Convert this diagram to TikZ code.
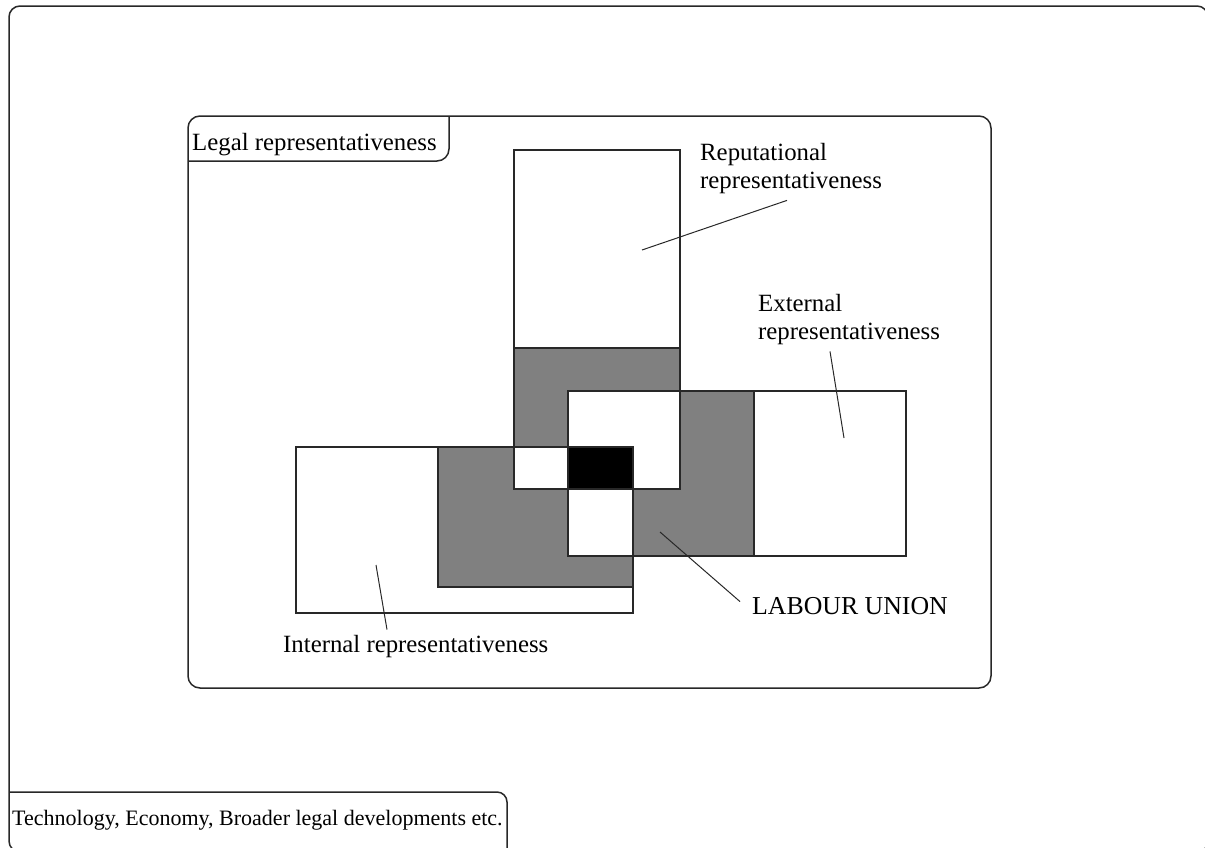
\documentclass[tikz,border=0pt]{standalone}
\usepackage{fontspec}
\setmainfont{Liberation Serif}
\usetikzlibrary{calc}

\definecolor{unionGray}{RGB}{128,128,128}
\definecolor{lineInk}{RGB}{40,40,40}

\tikzset{
  frame/.style={draw=lineInk, line width=1.5pt},
  field/.style={draw=lineInk, line width=1.5pt},
  lbl/.style={font=\fontsize{24.8}{28.5}\selectfont, inner sep=0pt, align=left, anchor=north west},
  leader/.style={draw=lineInk, line width=1pt}
}

\begin{document}
\begin{tikzpicture}[x=1pt,y=-1pt]
\useasboundingbox (0,0) rectangle (1205,847);

% outer environment
\path[frame, rounded corners=11pt] (9,6) rectangle (1208,852);
\path[frame, rounded corners=10pt] (9,792) -- (507,792) -- (507,852);
\node[lbl, anchor=base west, font=\fontsize{22}{26}\selectfont] (envLabel) at (12,825) {Technology, Economy, Broader legal developments etc.};

% legal frame
\path[frame, rounded corners=12pt] (188,116) rectangle (991,688);
\path[frame, rounded corners=12pt] (188,161) -- (449,161) -- (449,116);
\node[lbl, anchor=base west] (legalLabel) at (192,150) {Legal representativeness};

% grey parts
\fill[unionGray] (514,348) rectangle (680,489);
\fill[unionGray] (568,391) rectangle (754,556);
\fill[unionGray] (438,447) rectangle (633,587);
% overlaps
\fill[white] (568,391) rectangle (680,489);
\fill[white] (514,447) rectangle (633,489);
\fill[white] (568,447) rectangle (633,556);
\fill[black] (568,447) rectangle (633,489);

% fields
\path[field] (514,150) rectangle (680,489);
\path[field] (514,348) -- (680,348);
\path[field] (568,391) rectangle (906,556);
\path[field] (754,391) -- (754,556);
\path[field] (296,447) rectangle (633,613);
\path[field] (438,447) -- (438,587) -- (633,587);

% labels
\node[lbl] (repLabel) at (700,143) {Reputational\\representativeness};
\node[lbl] (extLabel) at (758,294) {External\\representativeness};
\node[lbl, anchor=base west, font=\fontsize{25.8}{30}\selectfont] (unionLabel) at (752,614) {LABOUR UNION};
\node[lbl, anchor=base west] (intLabel) at (283,652) {Internal representativeness};

\coordinate (repTip) at (642,250);
\coordinate (extTip) at (844,438);
\coordinate (unionTip) at (660,532);
\coordinate (intTip) at (376,565);

\path[leader] (repTip) -- ($(repLabel.south west)+(87,6)$);
\path[leader] (extTip) -- ($(extLabel.south west)+(72,6)$);
\path[leader] (unionTip) -- ($(unionLabel.west)+(-12,-4)$);
\path[leader] (intTip) -- ($(intLabel.north west)+(104,-5)$);
\end{tikzpicture}
\end{document}
